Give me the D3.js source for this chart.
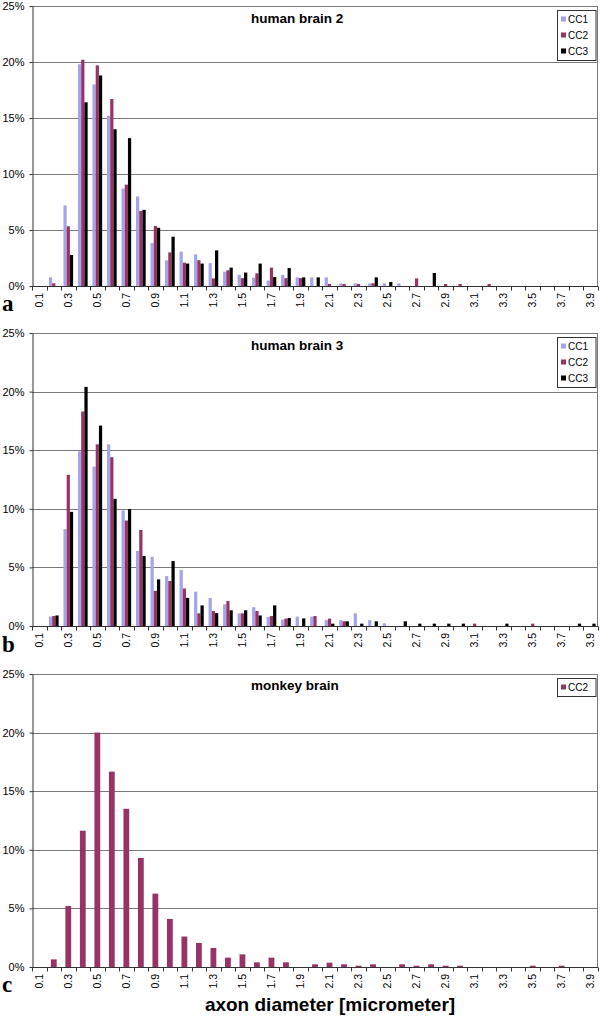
<!DOCTYPE html>
<html>
<head>
<meta charset="utf-8">
<script src="https://cdn.jsdelivr.net/npm/d3@7"></script>
<style>
  html, body { margin: 0; padding: 0; background: #fff; }
  svg { display: block; }
</style>
</head>
<body>
<script>
// ---------------- data ----------------
const categories = ["0.1","0.2","0.3","0.4","0.5","0.6","0.7","0.8","0.9","1.0",
  "1.1","1.2","1.3","1.4","1.5","1.6","1.7","1.8","1.9","2.0",
  "2.1","2.2","2.3","2.4","2.5","2.6","2.7","2.8","2.9","3.0",
  "3.1","3.2","3.3","3.4","3.5","3.6","3.7","3.8","3.9"];
const xTickLabels = ["0.1","0.3","0.5","0.7","0.9","1.1","1.3","1.5","1.7","1.9",
  "2.1","2.3","2.5","2.7","2.9","3.1","3.3","3.5","3.7","3.9"];
const yTicks = [0, 5, 10, 15, 20, 25];
const seriesNames = ["CC1", "CC2", "CC3"];

// human brain 2 (percent)
const brain2CC1 = [0,0.77,7.2,19.8,18.0,15.2,8.7,8.0,3.84,2.3,3.07,2.83,2.05,1.28,1.0,0.74,0.48,1.0,0.77,0.77,0.77,0.24,0.24,0.24,0.24,0.24,0,0,0,0,0,0,0,0,0,0,0,0,0];
const brain2CC2 = [0,0.24,5.33,20.2,19.7,16.7,9.05,6.7,5.36,3.0,2.08,2.3,0.68,1.4,0.7,1.13,1.64,0.7,0.7,0,0.18,0.18,0.18,0.24,0,0,0.68,0,0.18,0.18,0,0.18,0,0,0,0,0,0,0];
const brain2CC3 = [0,0,2.77,16.4,18.8,14.0,13.2,6.8,5.2,4.4,2.0,2.0,3.18,1.64,1.2,2.0,0.8,1.6,0.77,0.77,0,0,0,0.77,0.36,0,0,1.16,0,0,0,0,0,0,0,0,0,0,0];

// human brain 3 (percent)
const brain3CC1 = [0,0.8,8.27,14.9,13.6,15.5,9.86,6.4,5.9,4.26,4.77,2.93,2.39,1.85,1.08,1.6,0.77,0.55,0.8,0.8,0.5,0.5,1.08,0.5,0.23,0,0,0,0,0,0,0,0,0,0,0,0,0,0];
const brain3CC2 = [0,0.85,12.9,18.3,15.5,14.4,9.0,8.2,3.0,3.84,3.2,1.08,1.28,2.13,1.08,1.28,0.85,0.63,0,0.85,0.63,0.4,0,0,0,0,0,0,0,0,0.2,0,0,0,0.2,0,0,0,0];
const brain3CC3 = [0,0.9,9.74,20.4,17.1,10.85,9.97,5.97,3.98,5.54,2.4,1.76,1.1,1.34,1.34,0.9,1.76,0.68,0.65,0,0.2,0.4,0.2,0.4,0,0.4,0.2,0.2,0.2,0.2,0,0,0.2,0,0,0,0,0.2,0.2];

// monkey brain (percent)
const monkeyCC2 = [0,0.65,5.2,11.63,20.0,16.67,13.5,9.3,6.26,4.1,2.6,2.05,1.62,0.8,1.08,0.4,0.8,0.4,0,0.23,0.37,0.23,0.11,0.23,0,0.23,0.11,0.23,0.11,0.11,0,0,0,0,0.11,0,0.11,0,0];

// ---------------- drawing ----------------
const W = 600, H = 1016;
const left = 32, right = 598;
const SANS = "'Liberation Sans', Arial, Helvetica, sans-serif";
const SERIF = "'Liberation Serif', 'Times New Roman', serif";
const svg = d3.select("body").append("svg").attr("width", W).attr("height", H)
  .attr("font-family", SANS);

const x = d3.scaleBand().domain(categories).range([left, right]).paddingInner(0).paddingOuter(0);
const color = d3.scaleOrdinal().domain(seriesNames).range(["#a4a4ec", "#993366", "#000000"]);

function panel(cfg) {
  const y = d3.scaleLinear().domain([0, 25]).range([cfg.bottom, cfg.top]);
  const g = svg.append("g");

  // gridlines
  g.selectAll("line.grid").data(yTicks.filter(v => v > 0)).join("line")
    .attr("class", "grid")
    .attr("x1", left).attr("x2", right)
    .attr("y1", d => Math.round(y(d)) + 0.5).attr("y2", d => Math.round(y(d)) + 0.5)
    .attr("stroke", "#7a7a7a").attr("stroke-width", 1);
  // right frame
  g.append("line").attr("x1", right - 0.5).attr("x2", right - 0.5)
    .attr("y1", cfg.top).attr("y2", cfg.bottom).attr("stroke", "#7a7a7a");

  // bars
  const names = cfg.series.map(s => s.name);
  const sub = d3.scaleBand().domain(names).range([0, x.bandwidth()]).paddingInner(0).paddingOuter(0.75);
  cfg.series.forEach(s => {
    g.append("g").selectAll("rect").data(s.values.map((v, i) => ({ c: categories[i], v })))
      .join("rect")
      .attr("x", d => x(d.c) + sub(s.name))
      .attr("width", sub.bandwidth())
      .attr("y", d => y(d.v))
      .attr("height", d => y(0) - y(d.v))
      .attr("fill", color(s.name));
  });

  // y axis
  const ya = g.append("g").attr("transform", `translate(${left + 0.5},0)`)
    .call(d3.axisLeft(y).tickValues(yTicks).tickFormat(d => d + "%").tickSize(3).tickSizeOuter(0).tickPadding(5));
  ya.select(".domain").attr("stroke", "#333");
  ya.selectAll(".tick line").attr("stroke", "#333");
  ya.selectAll("text").attr("font-size", 11).attr("fill", "#000").attr("font-family", SANS);

  // x axis line
  const yb = Math.round(y(0)) + 0.5;
  g.append("line").attr("x1", left).attr("x2", right).attr("y1", yb).attr("y2", yb).attr("stroke", "#333");
  // category boundary ticks
  const bounds = categories.map(c => x(c)).concat([x.range()[1]]);
  g.selectAll("line.xt").data(bounds).join("line").attr("class", "xt")
    .attr("x1", d => Math.round(d) + 0.5).attr("x2", d => Math.round(d) + 0.5)
    .attr("y1", yb).attr("y2", yb + 4).attr("stroke", "#333");
  // x labels
  g.selectAll("text.xl").data(xTickLabels).join("text").attr("class", "xl")
    .attr("transform", d => `translate(${x(d) + x.bandwidth() / 2},${yb + 6.5}) rotate(-90)`)
    .attr("text-anchor", "end").attr("dy", "0.35em")
    .attr("font-size", 10.5).attr("fill", "#000").text(d => d);

  // title
  g.append("text").attr("x", 251).attr("y", cfg.titleY)
    .attr("font-size", 13.5).attr("font-weight", "bold").attr("fill", "#000").text(cfg.title);

  // legend
  const lt = cfg.top + 4.5;
  const lh = 16 * names.length + 2;
  g.append("rect").attr("x", 557.5).attr("y", lt).attr("width", 38.5).attr("height", lh)
    .attr("fill", "#fff").attr("stroke", "#333").attr("stroke-width", 1);
  names.forEach((n, i) => {
    const by = lt + 12 + 16 * i;
    g.append("rect").attr("x", 561).attr("y", by - 6).attr("width", 5).attr("height", 5).attr("fill", color(n));
    g.append("text").attr("x", 568).attr("y", by).attr("font-size", 10).attr("fill", "#000").text(n);
  });

  // panel letter
  g.append("text").attr("x", 2).attr("y", cfg.letterY)
    .attr("font-family", SERIF)
    .attr("font-weight", "bold").attr("font-size", 23).attr("fill", "#000").text(cfg.letter);
}

panel({ top: 6, bottom: 286, title: "human brain 2", titleY: 23, letter: "a", letterY: 311,
  series: [{ name: "CC1", values: brain2CC1 }, { name: "CC2", values: brain2CC2 }, { name: "CC3", values: brain2CC3 }] });
panel({ top: 333, bottom: 626, title: "human brain 3", titleY: 350, letter: "b", letterY: 652,
  series: [{ name: "CC1", values: brain3CC1 }, { name: "CC2", values: brain3CC2 }, { name: "CC3", values: brain3CC3 }] });
panel({ top: 674, bottom: 967, title: "monkey brain", titleY: 690, letter: "c", letterY: 992,
  series: [{ name: "CC2", values: monkeyCC2 }] });

svg.append("text").attr("x", 330).attr("y", 1011).attr("text-anchor", "middle")
  .attr("font-size", 19).attr("font-weight", "bold").attr("fill", "#000")
  .text("axon diameter [micrometer]");
</script>
</body>
</html>
